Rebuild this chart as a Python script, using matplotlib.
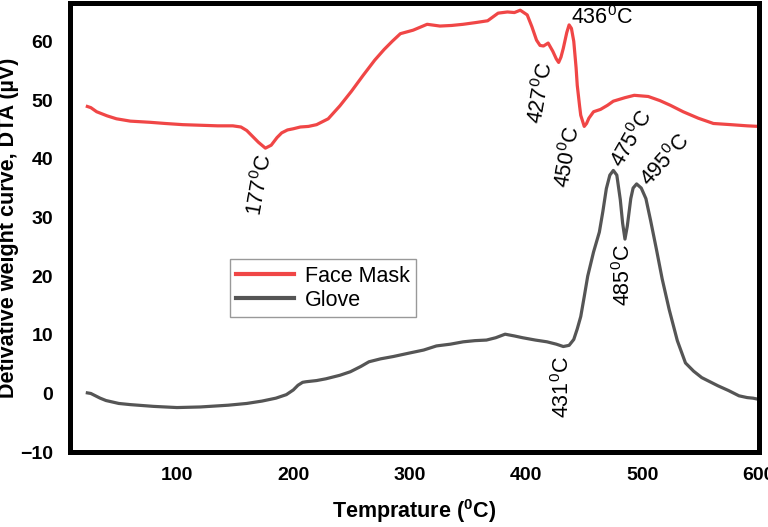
import matplotlib
matplotlib.use("Agg")
import matplotlib.pyplot as plt

# ----------------------------- Data -----------------------------
# Face mask DTA curve
fm_t = [23, 26, 31, 40, 48, 60, 77, 90, 105, 120, 135, 148, 155, 160, 165, 170, 176, 181,
        186, 190, 195, 200, 206, 213, 220, 230, 240, 250, 260, 270, 278, 285, 292, 303,
        315, 326, 336, 346, 357, 367, 376, 384, 390, 395, 401, 405, 409, 412, 415, 419,
        423, 426, 428, 430, 432, 435, 437, 439, 441, 443, 444, 446, 447, 450, 452, 454,
        458, 464, 470, 475, 485, 493, 505, 515, 524, 535, 548, 561, 576, 590, 600]
fm_v = [48.9, 48.7, 48.0, 47.3, 46.8, 46.4, 46.2, 46.0, 45.8, 45.7, 45.6, 45.6, 45.4, 44.8,
        43.8, 42.8, 41.8, 42.3, 43.6, 44.4, 44.9, 45.1, 45.4, 45.5, 45.8, 46.8, 49.0, 51.5,
        54.2, 56.8, 58.6, 60.0, 61.3, 61.9, 62.9, 62.6, 62.7, 62.9, 63.2, 63.5, 64.8, 65.0,
        64.9, 65.3, 64.5, 62.5, 60.2, 59.3, 59.2, 59.7, 58.3, 57.0, 56.4, 57.3, 58.8, 61.5,
        62.8, 62.2, 60.0, 55.5, 52.5, 49.0, 47.4, 45.5, 46.0, 46.9, 48.0, 48.4, 49.1, 49.8,
        50.4, 50.8, 50.6, 49.9, 49.1, 48.0, 46.9, 46.0, 45.8, 45.6, 45.5]

# Glove DTA curve
gl_t = [23, 26, 30, 34, 39, 50, 60, 80, 100, 120, 144, 160, 173, 185, 194, 200, 204, 208,
        211, 220, 228, 240, 249, 258, 265, 275, 286, 300, 312, 323, 335, 346, 356, 366,
        374, 382, 390, 397, 408, 418, 426, 432, 437, 441, 444, 447, 450, 453, 458, 463,
        466, 469, 472, 475, 478, 481, 483, 485, 487, 490, 492, 495, 499, 503, 507, 512,
        517, 523, 530, 537, 544, 551, 558, 565, 574, 583, 590, 595, 600]
gl_v = [0.1, 0.0, -0.4, -0.8, -1.2, -1.7, -1.9, -2.2, -2.4, -2.3, -2.0, -1.7, -1.3, -0.8,
        -0.2, 0.6, 1.4, 1.9, 2.0, 2.2, 2.5, 3.1, 3.7, 4.6, 5.4, 5.9, 6.3, 6.9, 7.4, 8.1,
        8.4, 8.8, 9.0, 9.1, 9.5, 10.1, 9.8, 9.5, 9.1, 8.8, 8.4, 8.0, 8.2, 9.2, 11.0, 13.1,
        16.5, 20.0, 24.1, 27.5, 31.0, 34.9, 37.2, 38.0, 37.2, 33.0, 29.0, 26.3, 28.5, 33.2,
        35.0, 35.7, 35.0, 33.2, 29.5, 24.6, 19.5, 14.3, 9.0, 5.2, 3.8, 2.7, 2.0, 1.3, 0.5,
        -0.4, -0.7, -0.8, -1.0]

# Peak temperature labels
peak_labels = ["177", "427", "436", "450", "475", "495", "485", "431"]

x_ticks = [100, 200, 300, 400, 500, 600]
y_ticks = [-10, 0, 10, 20, 30, 40, 50, 60]

# ----------------------------- Style -----------------------------
plt.rcParams['font.family'] = ['Liberation Sans', 'DejaVu Sans']
plt.rcParams['mathtext.fontset'] = 'custom'
plt.rcParams['mathtext.rm'] = 'Liberation Sans'
plt.rcParams['mathtext.it'] = 'Liberation Sans:italic'
plt.rcParams['mathtext.bf'] = 'Liberation Sans:bold'

RED = '#F04646'
GREY = '#555555'

fig = plt.figure(figsize=(7.68, 5.27), dpi=100)
ax = fig.add_axes([0.091, 0.142, 0.897, 0.852])

ax.plot(fm_t, fm_v, color=RED, lw=2.3, solid_joinstyle='round', label='Face Mask')
ax.plot(gl_t, gl_v, color=GREY, lw=2.3, solid_joinstyle='round', label='Glove')

ax.set_xlim(8, 600)
ax.set_ylim(-10, 66.5)
ax.set_xticks(x_ticks)
ax.set_yticks(y_ticks)
ax.tick_params(length=0, labelsize=14)
ax.tick_params(axis='x', pad=11)
ax.tick_params(axis='y', pad=12)
for lab in ax.get_xticklabels() + ax.get_yticklabels():
    lab.set_fontweight('bold')

for sp in ax.spines.values():
    sp.set_linewidth(3.6)
    sp.set_color('black')

ax.set_xlabel(r'Temprature ($\mathbf{^0}$C)', fontsize=15.5, fontweight='bold', labelpad=9)
ax.set_ylabel('Detivative weight curve, DTA (µV)', fontsize=15.5, fontweight='bold', labelpad=1)

# annotation placement: (x, y, rotation, ha)
placements = [
    (171, 35.5, 80, 'center'),
    (413, 51.1, 80, 'center'),
    (439, 64.0, 0, 'left'),
    (436, 40.3, 80, 'center'),
    (491, 43.3, 60, 'center'),
    (519.5, 39.7, 48, 'center'),
    (483.5, 20.1, 90, 'center'),
    (431, 1.1, 90, 'center'),
]
for lab, (px, py, rot, ha) in zip(peak_labels, placements):
    ax.text(px, py, lab + r'$^0$C', rotation=rot, ha=ha, va='center',
            fontsize=15.5, rotation_mode='anchor' if rot == 0 else 'default')

leg = ax.legend(loc='lower left', bbox_to_anchor=(0.232, 0.30), borderaxespad=0,
                fontsize=15.5, frameon=True, fancybox=False, handlelength=2.7,
                handletextpad=0.5, borderpad=0.3, labelspacing=0.15)
leg.get_frame().set_edgecolor('#808080')
leg.get_frame().set_linewidth(1.0)
for h in leg.get_lines():
    h.set_linewidth(3)

fig.savefig('out.png', dpi=100)
